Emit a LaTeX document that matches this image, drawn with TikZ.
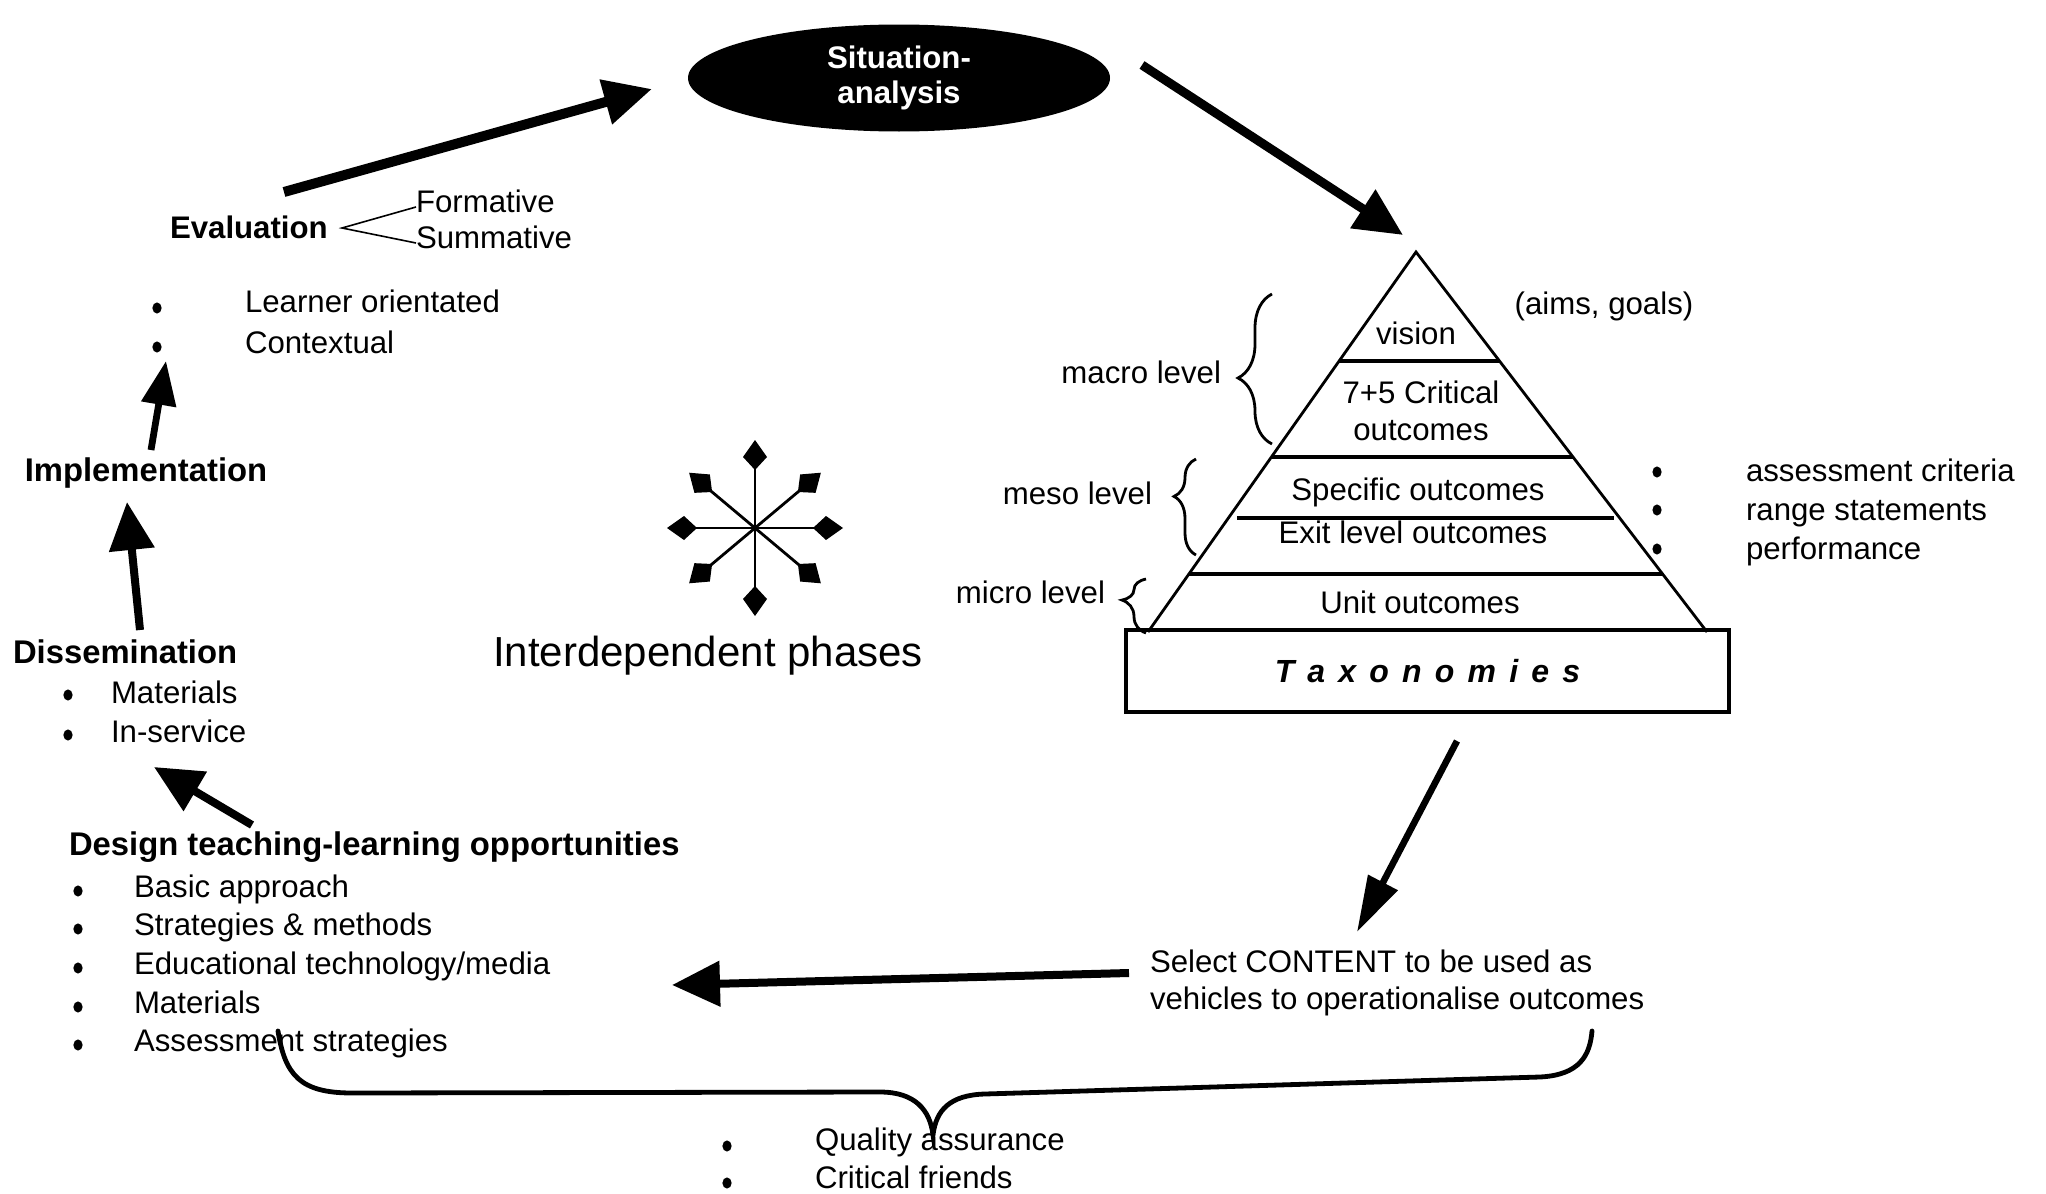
\documentclass[tikz,border=0pt]{standalone}
\usepackage{fontspec}
\setmainfont{Liberation Sans}
\usetikzlibrary{arrows.meta,shapes.geometric,calc,decorations.pathreplacing}
\begin{document}
\begin{tikzpicture}[x=0.5pt,y=-0.5pt,
  every node/.style={inner sep=0pt, outer sep=0pt},
  txt/.style={font=\fontsize{15.6pt}{19pt}\selectfont, text height=11pt, text depth=0pt},
  hd/.style={font=\fontsize{16.4pt}{19pt}\selectfont\bfseries, text height=11pt, text depth=0pt},
  dot/.style={ellipse, fill=black, minimum width=4.6pt, minimum height=5.6pt},
  flow/.style={line width=4pt, -{Triangle[length=24pt,width=22pt]}},
  thinline/.style={line width=0.8pt},
  level/.style={line width=2pt},
  lvlbrace/.style={line width=1.4pt, decorate},
  kitearm/.style={line width=1.4pt, -{Kite[length=15pt,width=12pt,inset=6.5pt]}},
]
\useasboundingbox (0,0) rectangle (2046,1194);

% ---- situation analysis ----
\node[ellipse, fill=black, minimum width=211pt, minimum height=53.5pt,
      text=white, align=center,
      font=\fontsize{15.6pt}{17.6pt}\selectfont\bfseries] (sit) at (899,78) {Situation-\\analysis};

% ---- evaluation ----
\node[hd, font=\fontsize{15.6pt}{19pt}\selectfont\bfseries, anchor=west] (eval) at (170,227) {Evaluation};
\coordinate (fork) at (342,228);
\node[txt, anchor=west] (form) at (416,201) {Formative};
\node[txt, anchor=west] (summ) at (416,237) {Summative};
\draw[thinline] ($(form.west)+(0,6)$) -- (fork) -- ($(summ.west)+(0,6)$);

\node[dot] (eb1) at (157,308) {};
\node[dot] (eb2) at (157,347) {};
\node[txt, anchor=west] (learner) at (245,301) {Learner orientated};
\node[txt, anchor=west] (context) at (245,342) {Contextual};

% ---- implementation / dissemination ----
\node[hd] (impl) at (146,470) {Implementation};
\node[hd, anchor=west] (diss) at (13,652) {Dissemination};
\node[dot] (db1) at (68,695) {};
\node[dot] (db2) at (68,735) {};
\node[txt, anchor=west] (dmat) at (111,692) {Materials};
\node[txt, anchor=west] (dins) at (111,731) {In-service};

% ---- design ----
\node[hd, anchor=west] (design) at (69,844) {Design teaching-learning opportunities};
\foreach \i/\yb/\yt/\t in {1/891/886/{Basic approach},
                          2/929/924/{Strategies \& methods},
                          3/968/963/{Educational technology/media},
                          4/1007/1002/{Materials},
                          5/1045/1040/{Assessment strategies}}{
  \node[dot] (dsb\i) at (78,\yb) {};
  \node[txt, anchor=west] (ds\i) at (134,\yt) {\t};
}

% ---- content selection ----
\node[anchor=west, align=left, font=\fontsize{15.6pt}{18.3pt}\selectfont] (content) at (1150,983)
  {Select CONTENT to be used as\\vehicles to operationalise outcomes};

% ---- quality assurance ----
\node[dot] (qb1) at (727,1146) {};
\node[dot] (qb2) at (727,1183) {};
\node[txt, anchor=west] (qa) at (815,1139) {Quality assurance};
\node[txt, anchor=west] (cf) at (815,1177) {Critical friends};

\draw[line width=2.4pt, line cap=round]
  (278,1031) .. controls (285,1075) and (300,1093) .. (352,1093)
  -- (880,1092) .. controls (915,1092) and (930,1110) .. (933,1135)
  .. controls (936,1110) and (950,1095) .. (985,1094)
  -- (1540,1077) .. controls (1580,1075) and (1590,1055) .. (1592,1031);

% ---- interdependent phases ----
\coordinate (hub) at (755,528);
\foreach \a/\r in {0/88,90/88,180/88,270/88,40/86,140/86,220/86,320/86}
  \draw[kitearm] (hub) -- ++(\a:\r);
\node[font=\fontsize{21pt}{25pt}\selectfont] (phases) at (708,656) {Interdependent phases};

% ---- outcomes pyramid ----
\coordinate (apex) at (1416,252);
\coordinate (bl) at (1148,632);
\coordinate (br) at (1707,632);
\draw[line width=1.4pt] (bl) -- (apex) -- (br);
\draw[level] ($(apex)!0.287!(bl)$) -- ($(apex)!0.287!(br)$);
\draw[level] ($(apex)!0.539!(bl)$) -- ($(apex)!0.539!(br)$);
\coordinate (exitL) at (1237,518);
\coordinate (exitR) at (1614,518);
\draw[level] (exitL) -- (exitR);
\draw[level] ($(apex)!0.847!(bl)$) -- ($(apex)!0.847!(br)$);

\node[txt] (vision) at (1416,333) {vision};
\node[align=center, font=\fontsize{15.6pt}{18.2pt}\selectfont] (crit) at (1421,411) {7+5 Critical\\outcomes};
\node[txt] (spec) at (1418,489) {Specific outcomes};
\node[txt] (exitlvl) at (1413,532) {Exit level outcomes};
\node[txt] (unit) at (1420,602) {Unit outcomes};

\node[draw, line width=2pt, minimum width=301.5pt, minimum height=41pt,
      font=\fontsize{16pt}{19pt}\selectfont\bfseries\itshape] (tax) at (1427.5,671)
  {T\kern6.6pt a\kern6.6pt x\kern6.6pt o\kern6.6pt n\kern6.6pt o\kern6.6pt m\kern6.6pt i\kern6.6pt e\kern6.6pt s};

\node[txt] (aims) at (1604,303) {(aims, goals)};

\draw[lvlbrace, decoration={brace, amplitude=17pt, aspect=0.44}] (1272,444) -- (1272,294);
\draw[lvlbrace, decoration={brace, amplitude=11pt, aspect=0.61}] (1196,555) -- (1196,459);
\draw[lvlbrace, decoration={brace, amplitude=12pt, aspect=0.61}] (1146,633) -- (1146,579);
\node[txt, anchor=east] (macro) at (1221,372) {macro level};
\node[txt, anchor=east] (meso) at (1152,493) {meso level};
\node[txt, anchor=east] (micro) at (1105,592) {micro level};

\node[dot] (rb1) at (1657,472) {};
\node[dot] (rb2) at (1657,510) {};
\node[dot] (rb3) at (1657,549) {};
\node[txt, anchor=west] (crit1) at (1746,470) {assessment criteria};
\node[txt, anchor=west] (crit2) at (1746,509) {range statements};
\node[txt, anchor=west] (crit3) at (1746,548) {performance};

% ---- cycle arrows ----
\coordinate (evalOut) at (284,192);  \coordinate (sitIn) at (652,89);
\coordinate (sitOut) at (1142,65);   \coordinate (pyrIn) at (1403,235);
\coordinate (taxOut) at (1457,741);  \coordinate (contIn) at (1357,932);
\coordinate (contOut) at (1129,973); \coordinate (desIn) at (672,985);
\coordinate (desOut) at (252,825);   \coordinate (dissIn) at (154,767);
\coordinate (dissOut) at (140,630);  \coordinate (implIn) at (127,502);
\coordinate (implOut) at (151,450);  \coordinate (evalIn) at (166,361);

\draw[flow, line width=5pt] (evalOut) -- (sitIn);
\draw[flow, line width=4.5pt] (sitOut) -- (pyrIn);
\draw[line width=3.3pt, -{Triangle[length=28pt,width=16pt]}] (taxOut) -- (contIn);
\draw[flow] (contOut) -- (desIn);
\draw[flow] (desOut) -- (dissIn);
\draw[flow] (dissOut) -- (implIn);
\draw[flow, line width=3.4pt, -{Triangle[length=22pt,width=17pt]}] (implOut) -- (evalIn);
\end{tikzpicture}
\end{document}
